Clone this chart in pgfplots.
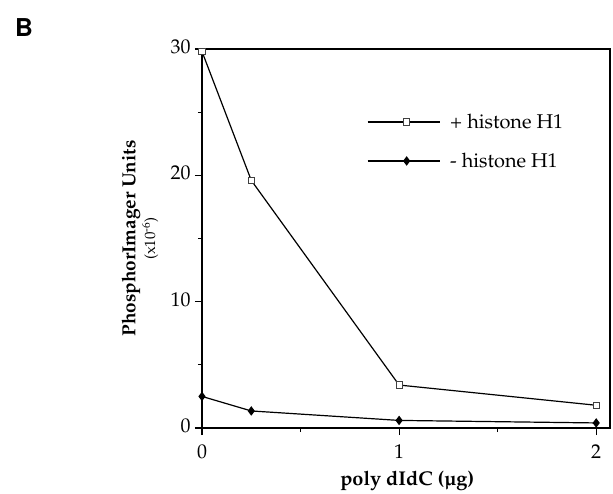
\documentclass[border=0pt]{standalone}
\usepackage[T1]{fontenc}
\usepackage{mathpazo}
\usepackage[scaled]{helvet}
\usepackage{pgfplots}
\pgfplotsset{compat=1.18}
\begin{document}
\begin{tikzpicture}
\begin{axis}[
 at={(0bp,0bp)}, anchor=south west,
 scale only axis, width=408bp, height=379bp,
 xmin=0, xmax=2.07, ymin=0, ymax=30,
 xtick={0,1,2}, ytick={0,10,20,30},
 minor xtick={0.5,1.5}, minor ytick={5,15,25},
 tick align=outside, tick pos=left,
 major tick length=7bp, minor tick length=4bp,
 axis line style={line width=1.1bp},
 every tick/.style={line width=1.1bp, black},
 ticklabel style={font=\fontsize{20}{22}\selectfont},
 xticklabel style={yshift=-6bp},
 yticklabel style={xshift=-1bp, yshift=2bp},
 clip=false,
 xlabel={\bfseries poly dIdC (\textmu g)},
 xlabel style={at={(axis description cs:0.503,-0.140)}, anchor=center, font=\fontsize{20}{22}\selectfont},
 ylabel={{\bfseries PhosphorImager Units}\\{\fontsize{15}{17}\selectfont (x10\textsuperscript{-6})}},
 ylabel style={at={(axis description cs:-0.152,0.5)}, anchor=center, rotate=0, align=center, font=\fontsize{19}{20}\selectfont},
 legend style={draw=none, fill=none, at={(axis description cs:0.404,0.834)}, anchor=north west, font=\fontsize{20}{22}\selectfont, row sep=19bp, inner sep=0pt, /tikz/every odd column/.append style={column sep=8bp}},
 legend cell align=left,
 legend image code/.code={\draw[mark repeat=2,mark phase=2,#1] plot coordinates {(0bp,0bp) (39bp,0bp) (72bp,0bp)};},
]
\addplot[black, line width=1.2bp, mark=square*, mark size=3.2bp, mark options={fill=white, draw=black!75, line width=0.8bp}] coordinates {(0,29.8) (0.25,19.6) (1,3.4) (2,1.8)};
\addlegendentry{+ histone H1}
\addplot[black, line width=1.2bp, mark=diamond*, mark size=3.8bp, mark options={fill=black}] coordinates {(0,2.5) (0.25,1.35) (1,0.6) (2,0.4)};
\addlegendentry{- histone H1}
\end{axis}
\node[font=\fontsize{26}{28}\selectfont\sffamily\bfseries] at (-178bp,400bp) {B};
\pgfresetboundingbox
\path[use as bounding box] (-202bp,-66bp) rectangle (411bp,428bp);
\end{tikzpicture}
\end{document}
